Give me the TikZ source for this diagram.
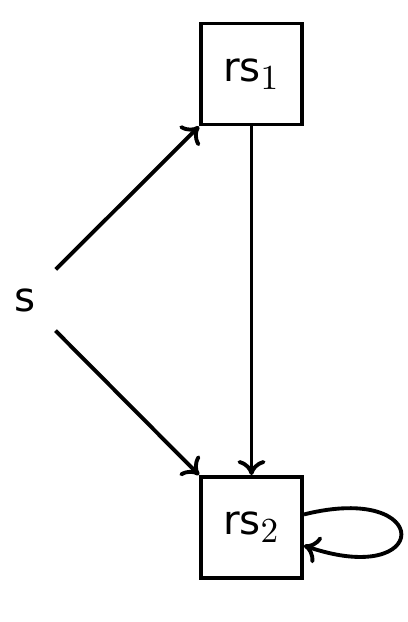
\documentclass[tikz,border=0pt]{standalone}
\usepackage{fontspec}
\setmainfont{DejaVu Sans}
\usepackage{tikz}
\usetikzlibrary{arrows.meta,positioning}
\DeclareMathSizes{11.5}{11.5}{10}{7}

\begin{document}
\begin{tikzpicture}[x=1cm,y=1cm,>={To[length=1.5mm,width=2.8mm]},
    every node/.style={font=\fontsize{11.5}{14}\selectfont},
    state/.style={draw,line width=1.1pt,minimum size=1.01cm,inner sep=0pt},
    link/.style={line width=1.1pt,->}]
  \useasboundingbox (0,0) rectangle (4.08,-6.22);
  \node[state] (rs1) at (2.515,-0.74) {rs$_1$};
  \node[state] (rs2) at (2.515,-5.275) {rs$_2$};
  \node[minimum width=0.6cm,minimum height=0.6cm,inner sep=0pt] (s) at (0.25,-3.0) {s};

  \draw[link] (s) -- (rs1.south west);
  \draw[link] (s) -- (rs2.north west);
  \draw[link] (rs1) -- (rs2);
  \draw[link] (rs2) to[out=14,in=-19,distance=1.35cm] (rs2);
\end{tikzpicture}
\end{document}
